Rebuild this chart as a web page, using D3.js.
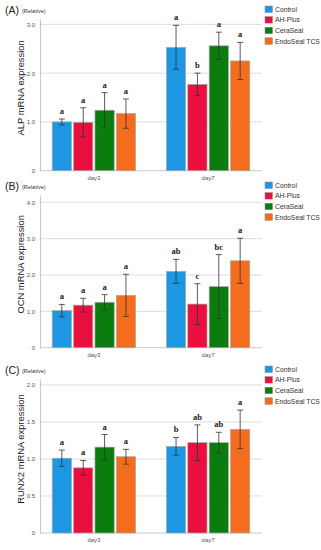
<!DOCTYPE html>
<html>
<head>
<meta charset="utf-8">
<script src="https://cdn.jsdelivr.net/npm/d3@7"></script>
<style>
  body { margin: 0; background: #fff; }
  svg { display: block; font-family: "Liberation Sans", Arial, sans-serif; }
</style>
</head>
<body>
<svg id="chart" width="321" height="550"></svg>
<script>
// data
const days = ['day3', 'day7'];
const groups = ['Control', 'AH-Plus', 'CeraSeal', 'EndoSeal TCS'];
const colors = ['#1b97e3', '#eb0f3f', '#0b7d0e', '#f56d1c'];

// ALP (A)
const alpMean = [[1.00, 0.99, 1.24, 1.17], [2.53, 1.77, 2.56, 2.25]];
const alpErr  = [[0.06, 0.30, 0.36, 0.30], [0.45, 0.23, 0.28, 0.38]];
const alpSig  = [['a', 'a', 'a', 'a'], ['a', 'b', 'a', 'a']];
const alpTicks = [0, 1, 2, 3];

// OCN (B)
const ocnMean = [[1.02, 1.17, 1.25, 1.44], [2.10, 1.20, 1.68, 2.39]];
const ocnErr  = [[0.17, 0.19, 0.21, 0.58], [0.33, 0.56, 0.88, 0.62]];
const ocnSig  = [['a', 'a', 'a', 'a'], ['ab', 'c', 'bc', 'a']];
const ocnTicks = [0, 1, 2, 3, 4];

// RUNX2 (C)
const runxMean = [[1.01, 0.88, 1.16, 1.03], [1.17, 1.22, 1.22, 1.40]];
const runxErr  = [[0.11, 0.10, 0.17, 0.10], [0.12, 0.24, 0.14, 0.26]];
const runxSig  = [['a', 'a', 'a', 'a'], ['b', 'ab', 'ab', 'a']];
const runxTicks = [0, 0.5, 1, 1.5, 2];

const panels = [
  { tag: '(A)', label: 'ALP mRNA expression', mean: alpMean, err: alpErr, sig: alpSig,
    ticks: alpTicks, max: 3.11, top: 19, bottom: 170.7 },
  { tag: '(B)', label: 'OCN mRNA expression', mean: ocnMean, err: ocnErr, sig: ocnSig,
    ticks: ocnTicks, max: 4.2, top: 195, bottom: 347.7 },
  { tag: '(C)', label: 'RUNX2 mRNA expression', mean: runxMean, err: runxErr, sig: runxSig,
    ticks: runxTicks, max: 2.08, top: 379, bottom: 533 }
];

const svg = d3.select('#chart');
const left = 40, right = 262;

const x0 = d3.scaleBand().domain(days).range([left, right]).paddingInner(0.27).paddingOuter(0.107);
const x1 = d3.scaleBand().domain(groups).range([0, x0.bandwidth()]).paddingInner(0.1);
const color = d3.scaleOrdinal().domain(groups).range(colors);
const fmt = d => d === 0 ? '0' : d.toFixed(1);

panels.forEach(p => {
  const g = svg.append('g');
  const y = d3.scaleLinear().domain([0, p.max]).range([p.bottom, p.top]);

  // title
  g.append('text').attr('x', 5).attr('y', p.top - 5)
    .attr('font-size', 10.5).attr('fill', '#222').text(p.tag);
  g.append('text').attr('x', 22).attr('y', p.top - 6)
    .attr('font-size', 5.5).attr('fill', '#333').text('(Relative)');

  // grid
  g.selectAll('.grid').data(p.ticks.filter(d => d > 0)).enter()
    .append('line')
    .attr('x1', left).attr('x2', right)
    .attr('y1', d => y(d)).attr('y2', d => y(d))
    .attr('stroke', '#d4d4d4').attr('stroke-width', 0.8);

  // axes
  const yAxis = d3.axisLeft(y).tickValues(p.ticks).tickFormat(fmt).tickSize(0).tickPadding(5);
  const ya = g.append('g').attr('transform', `translate(${left},0)`).call(yAxis);
  ya.select('.domain').attr('stroke', '#bbb').attr('stroke-width', 0.8);
  ya.selectAll('text').attr('font-size', 6).attr('fill', '#555').attr('font-family', null);

  const xAxis = d3.axisBottom(x0).tickSize(0).tickPadding(5);
  const xa = g.append('g').attr('transform', `translate(0,${p.bottom})`).call(xAxis);
  xa.select('.domain').attr('stroke', '#bbb').attr('stroke-width', 0.8).attr('d', `M${left},0H${right}`);
  xa.selectAll('text').attr('font-size', 6).attr('fill', '#555').attr('font-family', null);

  // y label
  g.append('text')
    .attr('transform', `translate(24,${(p.top + p.bottom) / 2 - 7}) rotate(-90)`)
    .attr('text-anchor', 'middle').attr('font-size', 9.4).attr('fill', '#222')
    .text(p.label);

  // bars
  days.forEach((day, i) => {
    const rows = groups.map((grp, j) => ({ grp, m: p.mean[i][j], e: p.err[i][j], s: p.sig[i][j] }));
    const dg = g.append('g').attr('transform', `translate(${x0(day)},0)`);
    dg.selectAll('rect').data(rows).enter().append('rect')
      .attr('x', d => x1(d.grp)).attr('width', x1.bandwidth())
      .attr('y', d => y(d.m)).attr('height', d => y(0) - y(d.m))
      .attr('fill', d => color(d.grp)).attr('stroke', '#a8a8a8').attr('stroke-width', 0.7);

    const cx = d => x1(d.grp) + x1.bandwidth() / 2;
    dg.selectAll('.eb').data(rows).enter().append('path')
      .attr('d', d => {
        const c = cx(d), t = y(d.m + d.e), b = y(d.m - d.e);
        return `M${c},${t}V${b}M${c - 3},${t}H${c + 3}M${c - 3},${b}H${c + 3}`;
      })
      .attr('stroke', '#333').attr('stroke-width', 0.8).attr('fill', 'none');

    dg.selectAll('.sig').data(rows).enter().append('text')
      .attr('x', cx).attr('y', d => y(d.m + d.e) - 5)
      .attr('text-anchor', 'middle').attr('font-size', 8.5).attr('font-weight', 'bold')
      .attr('font-family', '"Liberation Serif", serif').attr('fill', '#222')
      .text(d => d.s);
  });

  // legend
  const lg = g.append('g').attr('transform', `translate(265,${p.top - 13})`);
  groups.forEach((grp, j) => {
    lg.append('rect').attr('x', 0).attr('y', j * 10.6).attr('width', 7.5).attr('height', 6.5)
      .attr('fill', color(grp)).attr('stroke', '#888').attr('stroke-width', 0.5);
    lg.append('text').attr('x', 10).attr('y', j * 10.6 + 5.8)
      .attr('font-size', 6.8).attr('fill', '#333').text(grp);
  });
});
</script>
</body>
</html>
